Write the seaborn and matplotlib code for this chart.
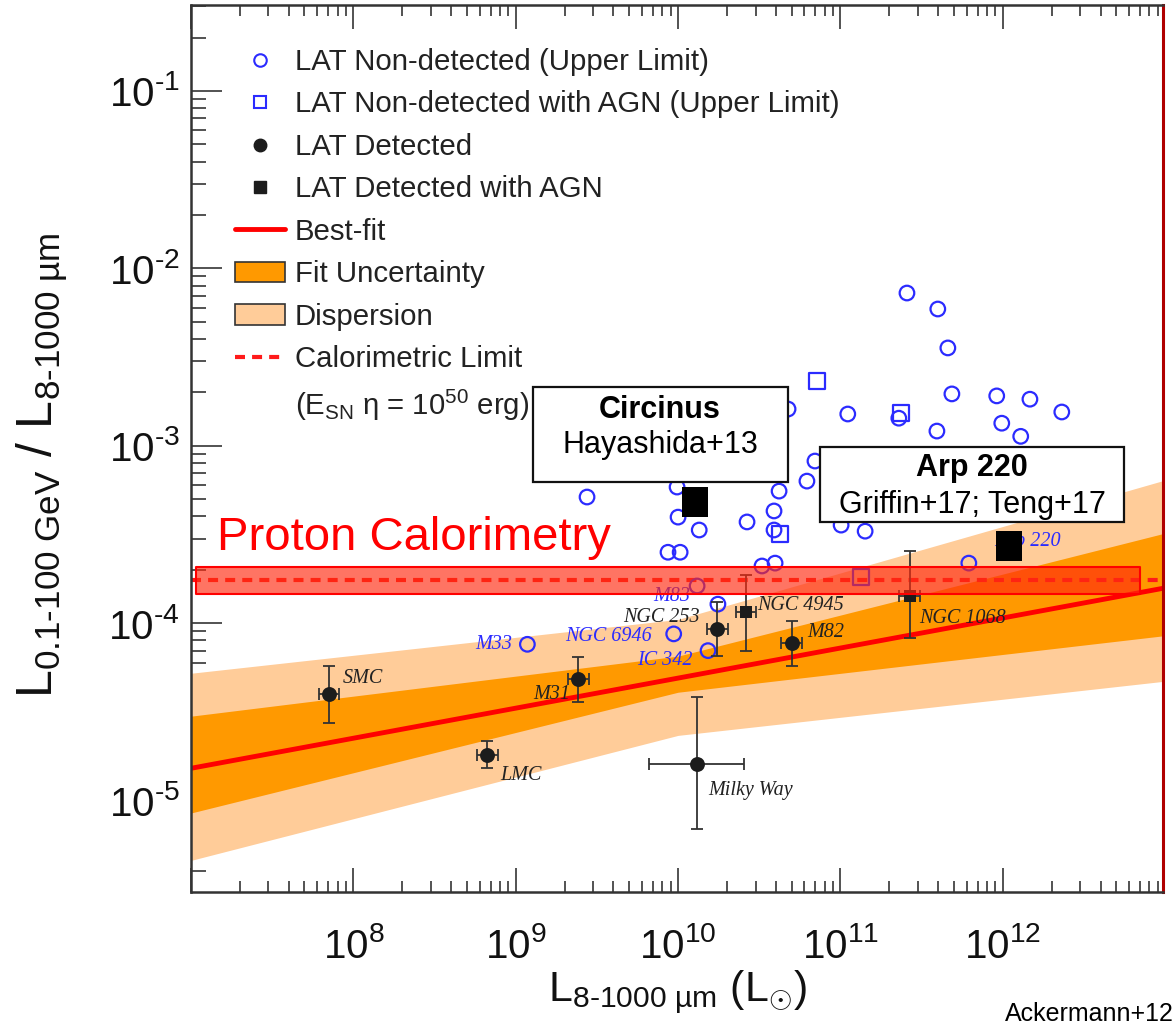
import numpy as np
import pandas as pd
import matplotlib
matplotlib.use("Agg")
import matplotlib.pyplot as plt
import matplotlib.ticker as mticker
from matplotlib.lines import Line2D
from matplotlib.patches import Patch, Rectangle
import seaborn as sns

sns.set_theme(style="ticks")
plt.rcParams['font.family'] = ['Liberation Sans', 'DejaVu Sans']
plt.rcParams['mathtext.fontset'] = 'custom'
plt.rcParams['mathtext.rm'] = 'Liberation Sans'
plt.rcParams['mathtext.it'] = 'Liberation Sans:italic'
plt.rcParams['mathtext.bf'] = 'Liberation Sans:bold'

# ---- LAT non-detected galaxies (upper limits) ----
ul_lir = [1.18e9, 9.4e9, 1.53e10, 1.31e10, 1.76e10, 2.75e9, 8.67e9, 1.03e10,
          9.86e9, 1.0e10, 1.35e10, 2.66e10, 3.29e10, 3.96e10, 3.90e10, 3.90e10,
          4.19e10, 4.76e10, 6.22e10, 6.97e10, 1.11e11, 2.29e11, 2.57e11, 3.98e11,
          4.59e11, 4.86e11, 3.93e11, 9.18e11, 9.86e11, 1.29e12, 1.47e12, 2.31e12,
          1.01e11, 1.42e11, 6.18e11]
ul_ratio = [7.6e-5, 8.7e-5, 7.0e-5, 1.62e-4, 1.28e-4, 5.14e-4, 2.51e-4, 2.51e-4,
            5.85e-4, 3.96e-4, 3.35e-4, 3.72e-4, 2.10e-4, 2.18e-4, 3.35e-4, 4.29e-4,
            5.55e-4, 1.61e-3, 6.32e-4, 8.2e-4, 1.51e-3, 1.43e-3, 7.26e-3, 5.9e-3,
            3.56e-3, 1.96e-3, 1.21e-3, 1.91e-3, 1.34e-3, 1.13e-3, 1.83e-3, 1.55e-3,
            3.57e-4, 3.30e-4, 2.18e-4]
ul_names = ["M33", "NGC 6946", "IC 342", "M83"]          # first four upper limits
ul_label_off = [(-15, 0), (-22, -3), (-15, -10), (-7, -11)]

# ---- LAT non-detected with AGN (upper limits) ----
ulagn_lir = [7.16e10, 2.36e11, 4.24e10, 1.34e11]
ulagn_ratio = [2.32e-3, 1.53e-3, 3.18e-4, 1.82e-4]

# ---- LAT detected star-forming galaxies ----
det_names = ["SMC", "LMC", "M31", "Milky Way", "NGC 253", "M82"]
det_lir = [7.1e7, 6.7e8, 2.43e9, 1.31e10, 1.74e10, 5.0e10]
det_lir_lo = [6.1e7, 5.8e8, 2.09e9, 6.6e9, 1.50e10, 4.3e10]
det_lir_hi = [8.2e7, 7.8e8, 2.82e9, 2.55e10, 2.02e10, 5.8e10]
det_ratio = [3.98e-5, 1.80e-5, 4.83e-5, 1.60e-5, 9.25e-5, 7.7e-5]
det_ratio_lo = [2.73e-5, 1.52e-5, 3.58e-5, 6.9e-6, 6.5e-5, 5.7e-5]
det_ratio_hi = [5.7e-5, 2.16e-5, 6.43e-5, 3.83e-5, 1.31e-4, 1.03e-4]
det_label_off = [(14, 16), (13, -20), (-8, -15), (11, -26), (-17, 12), (16, 11)]
det_label_ha = ["left", "left", "right", "left", "right", "left"]

# ---- LAT detected with AGN ----
agn_names = ["NGC 4945", "NGC 1068"]
agn_lir = [2.62e10, 2.68e11]
agn_lir_lo = [2.26e10, 2.31e11]
agn_lir_hi = [3.04e10, 3.11e11]
agn_ratio = [1.15e-4, 1.42e-4]
agn_ratio_lo = [7.0e-5, 8.3e-5]
agn_ratio_hi = [1.87e-4, 2.55e-4]
agn_label_off = [(11, 7), (9, -22)]

# ---- newer detections ----
new_names = ["Circinus", "Arp 220"]
new_refs = ["Hayashida+13", "Griffin+17; Teng+17"]
new_lir = [1.27e10, 1.09e12]
new_ratio = [4.8e-4, 2.72e-4]

# ---- best fit, fit uncertainty and dispersion ----
fit_lir = [1e7, 1e13]
fit_ratio = [1.52e-5, 1.58e-4]
band_lir = [1e7, 1e10, 1e13]
fit_lo = [8.51e-6, 4.08e-5, 8.51e-5]
fit_hi = [2.99e-5, 6.52e-5, 3.22e-4]
disp_lo = [4.60e-6, 2.33e-5, 4.71e-5]
disp_hi = [5.22e-5, 1.05e-4, 6.41e-4]

# ---- calorimetric limit and proton-calorimetry band ----
calor_limit = 1.75e-4
calor_band_lir = [1.07e7, 6.97e12]
calor_band_ratio = [1.46e-4, 2.07e-4]

BLUE = "#2b2bff"
DARK = "#1c1c1c"
ORANGE = "#ff9900"
LIGHT = "#ffcc99"

fig = plt.figure(figsize=(11.74, 10.29), dpi=100)
ax = fig.add_axes([0.1627, 0.1331, 0.8279, 0.862])
ax.set_xscale("log")
ax.set_yscale("log")

# bands
ax.fill_between(band_lir, disp_lo, disp_hi, color=LIGHT, lw=0, zorder=1)
ax.fill_between(band_lir, fit_lo, fit_hi, color=ORANGE, lw=0, zorder=1.5)
fit_df = pd.DataFrame({"lir": fit_lir, "ratio": fit_ratio})
sns.lineplot(data=fit_df, x="lir", y="ratio", color="#ff0000", lw=3.5,
             estimator=None, ax=ax, zorder=2)

# calorimetric limit
ax.axhline(calor_limit, color="#ff1a1a", lw=3, dashes=(2.4, 1.7), zorder=2.2)

# upper limits
ul_df = pd.DataFrame({"lir": ul_lir, "ratio": ul_ratio})
sns.scatterplot(data=ul_df, x="lir", y="ratio", marker="o", s=110,
                facecolors="none", edgecolor=BLUE, linewidth=1.6, ax=ax, zorder=3)
ulagn_df = pd.DataFrame({"lir": ulagn_lir, "ratio": ulagn_ratio})
sns.scatterplot(data=ulagn_df, x="lir", y="ratio", marker="s", s=125,
                facecolors="none", edgecolor=BLUE, linewidth=1.6, ax=ax, zorder=3)
for name, (dx, dy), x, y in zip(ul_names, ul_label_off, ul_lir, ul_ratio):
    ax.annotate(name, (x, y), xytext=(dx, dy), textcoords="offset pixels",
                ha="right", va="center", color=BLUE, fontsize=14.5,
                family="Liberation Serif", style="italic", zorder=3)

# detections with error bars
def err(v, lo, hi):
    v, lo, hi = map(np.asarray, (v, lo, hi))
    return np.vstack([v - lo, hi - v])

ax.errorbar(det_lir, det_ratio, xerr=err(det_lir, det_lir_lo, det_lir_hi),
            yerr=err(det_ratio, det_ratio_lo, det_ratio_hi), fmt="none",
            ecolor="#333333", elinewidth=1.3, capsize=4, capthick=1.3, zorder=4)
ax.errorbar(agn_lir, agn_ratio, xerr=err(agn_lir, agn_lir_lo, agn_lir_hi),
            yerr=err(agn_ratio, agn_ratio_lo, agn_ratio_hi), fmt="none",
            ecolor="#333333", elinewidth=1.3, capsize=4, capthick=1.3, zorder=4)
det_df = pd.DataFrame({"lir": det_lir, "ratio": det_ratio})
sns.scatterplot(data=det_df, x="lir", y="ratio", marker="o", s=115,
                color=DARK, edgecolor=DARK, linewidth=0, ax=ax, zorder=5)
agn_df = pd.DataFrame({"lir": agn_lir, "ratio": agn_ratio})
sns.scatterplot(data=agn_df, x="lir", y="ratio", marker="s", s=85,
                color=DARK, edgecolor=DARK, linewidth=0, ax=ax, zorder=5)
for name, (dx, dy), ha, x, y in zip(det_names, det_label_off, det_label_ha,
                                    det_lir, det_ratio):
    ax.annotate(name, (x, y), xytext=(dx, dy), textcoords="offset pixels",
                ha=ha, va="center", color="#222222", fontsize=14.5,
                family="Liberation Serif", style="italic", zorder=5)
for name, (dx, dy), x, y in zip(agn_names, agn_label_off, agn_lir, agn_ratio):
    ax.annotate(name, (x, y), xytext=(dx, dy), textcoords="offset pixels",
                ha="left", va="center", color="#222222", fontsize=14.5,
                family="Liberation Serif", style="italic", zorder=5)
ax.annotate("Arp 220", (new_lir[1], new_ratio[1]), xytext=(52, 5),
            textcoords="offset pixels", ha="right", va="center", color=BLUE,
            fontsize=14.5, family="Liberation Serif", style="italic", zorder=3)

# proton calorimetry band
ax.fill_between(calor_band_lir, calor_band_ratio[0], calor_band_ratio[1],
                facecolor=(1.0, 0.165, 0.06, 0.65), edgecolor="#ff0000",
                lw=1.5, zorder=6)
ax.text(0.0267, 0.3856, "Proton Calorimetry", transform=ax.transAxes,
        color="#ff0000", fontsize=34, ha="left", va="baseline", zorder=7)

# boxes for the newer detections
boxes = [((0.3519, 0.4622), 0.2623, 0.1071, (0.4825, 0.5434), (0.4825, 0.5039)),
         ((0.6471, 0.4171), 0.3128, 0.0846, (0.8035, 0.4780), (0.8035, 0.4363))]
for (xy, w, h, p1, p2), name, ref in zip(boxes, new_names, new_refs):
    ax.add_patch(Rectangle(xy, w, h, transform=ax.transAxes, facecolor="white",
                           edgecolor="#111111", lw=1.6, zorder=8))
    ax.text(*p1, name, transform=ax.transAxes, ha="center", va="center",
            fontsize=22, fontweight="bold", color="black", zorder=9)
    ax.text(*p2, ref, transform=ax.transAxes, ha="center", va="center",
            fontsize=22, color="black", zorder=9)

new_df = pd.DataFrame({"lir": new_lir, "ratio": new_ratio})
big_sq = [(-0.433, -0.5), (0.433, -0.5), (0.433, 0.5), (-0.433, 0.5), (-0.433, -0.5)]
sns.scatterplot(data=new_df, x="lir", y="ratio", marker=big_sq, s=470,
                color="black", edgecolor="black", linewidth=0, ax=ax, zorder=10)

# axes
ax.set_xlim(1.0e7, 9.7e12)
ax.set_ylim(3.05e-6, 0.305)
ax.xaxis.set_major_locator(mticker.LogLocator(base=10, numticks=20))
ax.xaxis.set_minor_locator(mticker.LogLocator(base=10, subs=np.arange(2, 10), numticks=20))
ax.yaxis.set_major_locator(mticker.LogLocator(base=10, numticks=20))
ax.yaxis.set_minor_locator(mticker.LogLocator(base=10, subs=np.arange(2, 10), numticks=20))
ax.xaxis.set_minor_formatter(mticker.NullFormatter())
ax.yaxis.set_minor_formatter(mticker.NullFormatter())
ax.xaxis.set_major_formatter(mticker.FuncFormatter(
    lambda v, p: "" if v < 5e7 else r"$10^{\text{%d}}$" % round(np.log10(v))))
ax.yaxis.set_major_formatter(mticker.FuncFormatter(
    lambda v, p: r"$10^{\text{%d}}$" % round(np.log10(v))))
ax.tick_params(axis="x", which="both", direction="in", top=True, bottom=True,
               color="#444444", width=1.3, labelsize=29, pad=25, labelcolor="#111111")
ax.tick_params(axis="x", which="major", length=17)
ax.tick_params(axis="x", which="minor", length=8)
ax.tick_params(axis="y", which="both", direction="in", left=True, right=False,
               color="#444444", width=1.3, labelsize=29, pad=8, labelcolor="#111111")
ax.tick_params(axis="y", which="major", length=22)
ax.tick_params(axis="y", which="minor", length=11)
for side in ("left", "top", "bottom"):
    ax.spines[side].set_color("#333333")
    ax.spines[side].set_linewidth(1.8)
ax.spines["right"].set_color("#b00000")
ax.spines["right"].set_linewidth(2.2)

ax.set_xlabel(r"L$_{\text{8-1000 µm}}$ (L$_{\odot}$)", fontsize=31, labelpad=2,
              color="#111111")
ax.set_ylabel(r"L$_{\text{0.1-100 GeV}}$ / L$_{\text{8-1000 µm}}$", fontsize=36,
              color="#111111")
ax.yaxis.set_label_coords(-0.124, 0.481)

# legend
handles = [
    Line2D([], [], ls="none", marker="o", ms=9, mfc="none", mec=BLUE, mew=1.5),
    Line2D([], [], ls="none", marker="s", ms=9, mfc="none", mec=BLUE, mew=1.5),
    Line2D([], [], ls="none", marker="o", ms=9, mfc=DARK, mec=DARK),
    Line2D([], [], ls="none", marker="s", ms=8, mfc=DARK, mec=DARK),
    Line2D([], [], color="#ff0000", lw=3.5),
    Patch(facecolor=ORANGE, edgecolor="#333333", lw=1.2),
    Patch(facecolor=LIGHT, edgecolor="#333333", lw=1.2),
    Line2D([], [], color="#ff1a1a", lw=3, dashes=(2.4, 1.7)),
    Line2D([], [], ls="none"),
]
labels = ["LAT Non-detected (Upper Limit)",
          "LAT Non-detected with AGN (Upper Limit)",
          "LAT Detected", "LAT Detected with AGN", "Best-fit",
          "Fit Uncertainty", "Dispersion", "Calorimetric Limit",
          r"(E$_{\text{SN}}$ η = 10$^{\text{50}}$ erg)"]
leg = ax.legend(handles, labels, loc="upper left", bbox_to_anchor=(0.0453, 0.9515),
                frameon=False, fontsize=21.2, labelspacing=0.49, handlelength=1.68,
                handletextpad=0.34, borderpad=0, borderaxespad=0,
                labelcolor="#222222")
leg.set_zorder(11)

fig.text(1005 / 1174, 1 - 1026 / 1029, "Ackermann+12", fontsize=18,
         ha="left", va="bottom", color="black")

fig.savefig("out.png", dpi=100)
